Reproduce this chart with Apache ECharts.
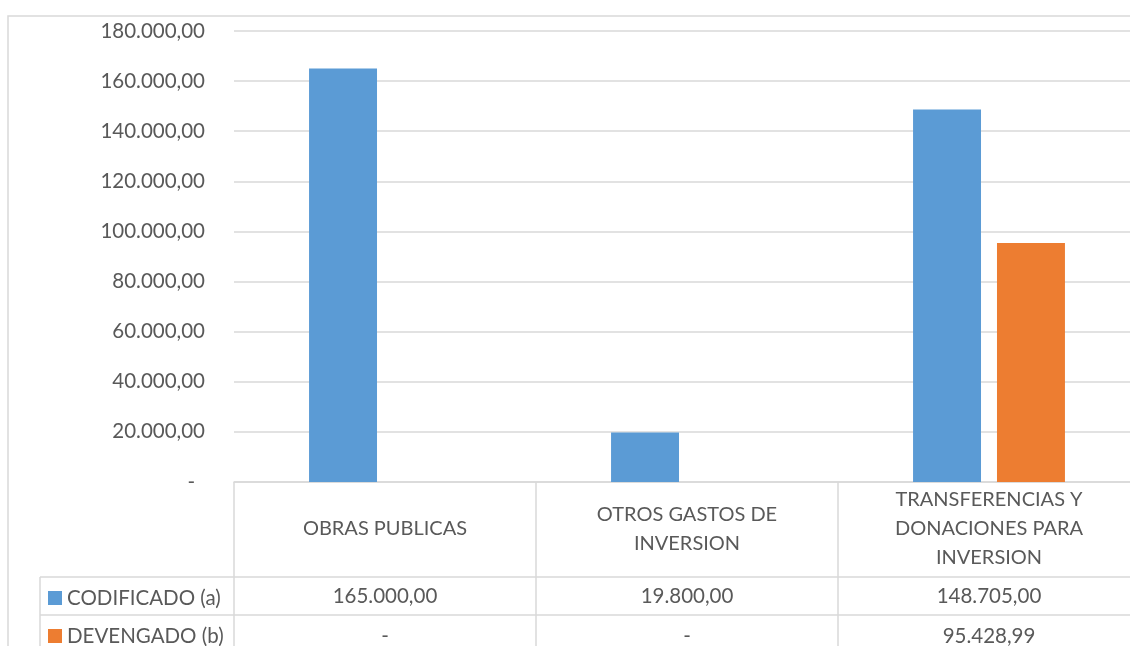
<!DOCTYPE html>
<html>
<head>
<meta charset="utf-8">
<script src="https://cdn.jsdelivr.net/npm/echarts@6/dist/echarts.min.js"></script>
<style>
  html, body { margin: 0; padding: 0; background: #fff; }
  #main { width: 1130px; height: 646px; }
</style>
</head>
<body>
<div id="main"></div>
<script>
// datos
const categories = ['OBRAS PUBLICAS', 'OTROS GASTOS DE\nINVERSION', 'TRANSFERENCIAS Y\nDONACIONES PARA\nINVERSION'];
const seriesNames = ['CODIFICADO (a)', 'DEVENGADO (b)'];
const codificado = [165000, 19800, 148705];
const devengado = [null, null, 95428.99];
const yMin = 0, yMax = 180000, yStep = 20000;

const txt = '#595959';
const lineCol = '#d9d9d9';
const font = 'Lato';

// formato 165.000,00
function fmt(v) {
  if (v === null || v === 0) return '-';
  const parts = v.toFixed(2).split('.');
  return parts[0].replace(/\B(?=(\d{3})+(?!\d))/g, '.') + ',' + parts[1];
}

const myChart = echarts.init(document.getElementById('main'));
const option = {
  animation: false,
  color: ['#5b9bd5', '#ed7d31'],
  grid: { left: 234, width: 906, top: 31, bottom: 164, outerBoundsMode: 'none', containLabel: false },
  legend: {
    orient: 'vertical',
    left: 48,
    top: 587,
    height: 120,
    padding: 0,
    itemWidth: 14,
    itemHeight: 14,
    itemGap: 16,
    icon: 'rect',
    data: seriesNames,
    textStyle: { color: txt, fontSize: 20.5, fontFamily: font, lineHeight: 22 }
  },
  xAxis: {
    type: 'category',
    data: categories,
    axisLine: { lineStyle: { color: lineCol, width: 1.5 } },
    axisTick: { show: true, length: 175, lineStyle: { color: lineCol, width: 1.5 } },
    axisLabel: {
      color: txt, fontSize: 20, fontFamily: font,
      margin: 47, verticalAlign: 'middle', lineHeight: 29, interval: 0
    }
  },
  yAxis: {
    type: 'value',
    min: yMin, max: yMax, interval: yStep,
    axisLine: { show: false },
    axisTick: { show: false },
    splitLine: { lineStyle: { color: lineCol, width: 1.5 } },
    axisLabel: {
      color: txt, fontSize: 20.5, fontFamily: font, margin: 29,
      formatter: function (v) { return v === 0 ? '{d|-}' : fmt(v); },
      rich: { d: { color: txt, fontSize: 20.5, fontFamily: font, padding: [0, 10, 0, 0] } }
    }
  },
  series: [
    { name: seriesNames[0], type: 'bar', data: codificado, barGap: '23.5%', barCategoryGap: '49.7%' },
    { name: seriesNames[1], type: 'bar', data: devengado }
  ]
};
myChart.setOption(option);

// tabla de datos bajo el eje
function drawTable() {
  const axisY = myChart.convertToPixel({ yAxisIndex: 0 }, 0);
  const headH = 95, rowHs = [38, 42], tableLeft = 40;
  const rows = [codificado, devengado];
  const g = [];
  // borde exterior del area
  g.push({ type: 'rect', shape: { x: 8, y: 16, width: 1300, height: 800 }, style: { fill: 'none', stroke: lineCol, lineWidth: 1.5 }, silent: true });
  g.push({ type: 'line', shape: { x1: tableLeft, y1: axisY + headH, x2: tableLeft, y2: 700 }, style: { stroke: lineCol, lineWidth: 1.5 }, silent: true });
  let top = axisY + headH;
  rows.forEach(function (vals, r) {
    g.push({ type: 'line', shape: { x1: tableLeft, y1: top, x2: 1200, y2: top }, style: { stroke: lineCol, lineWidth: 1.5 }, silent: true });
    vals.forEach(function (v, i) {
      g.push({
        type: 'text',
        x: myChart.convertToPixel({ xAxisIndex: 0 }, i),
        y: top + rowHs[r] / 2,
        style: { text: fmt(v), fill: txt, fontSize: 20.5, fontFamily: font, align: 'center', verticalAlign: 'middle' },
        silent: true
      });
    });
    top += rowHs[r];
  });
  myChart.setOption({ graphic: g });
}
drawTable();
</script>
</body>
</html>
